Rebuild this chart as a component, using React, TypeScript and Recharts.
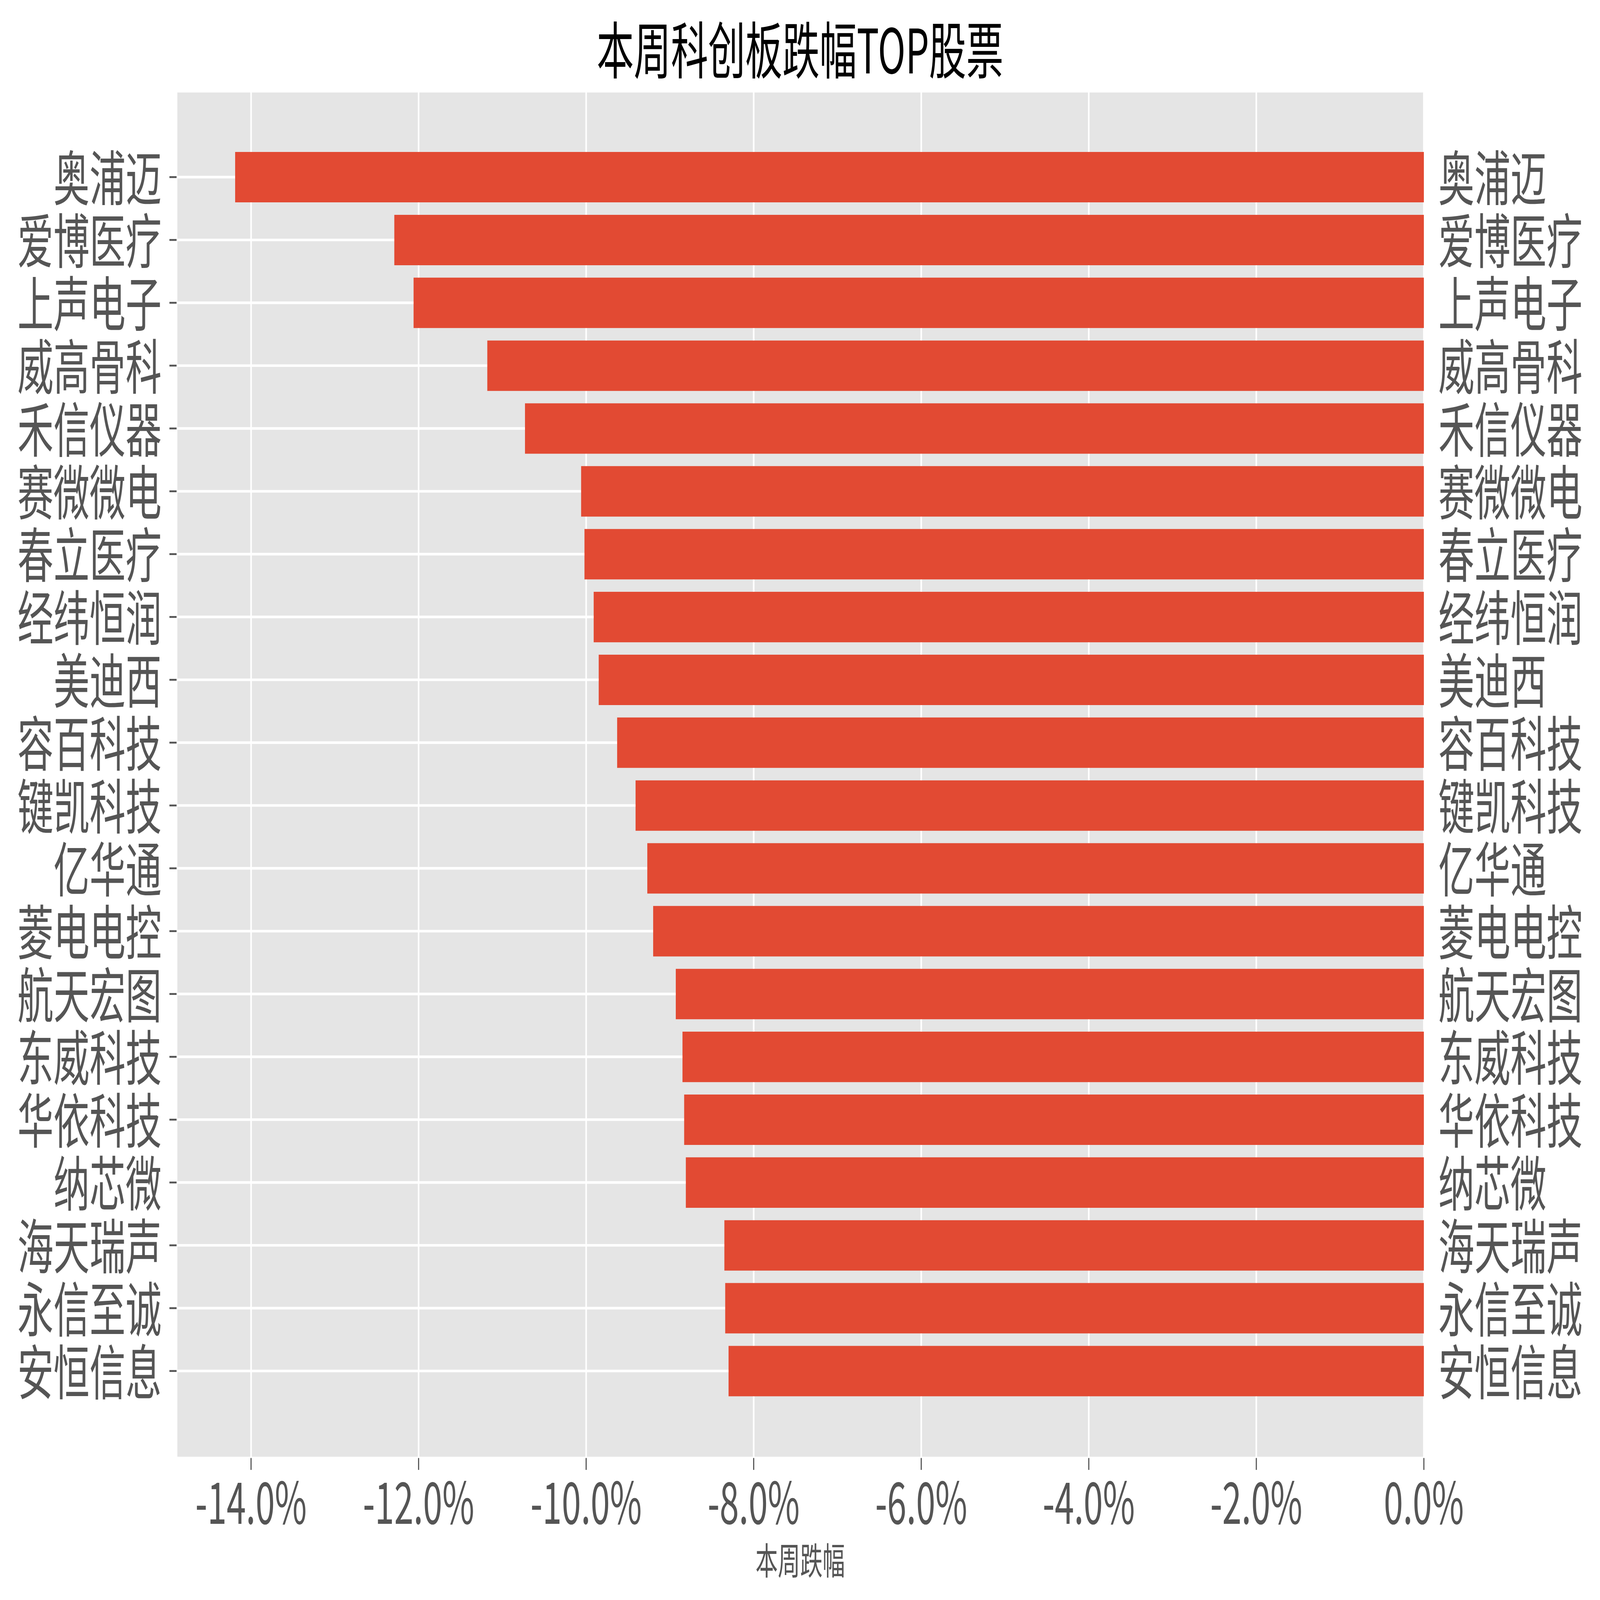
import React from "react";
import { BarChart, Bar, XAxis, YAxis, CartesianGrid, Label } from "recharts";

// stocks with the biggest weekly drop, top to bottom
const stockNames = [
  "奥浦迈", "爱博医疗", "上声电子", "威高骨科", "禾信仪器",
  "赛微微电", "春立医疗", "经纬恒润", "美迪西", "容百科技",
  "键凯科技", "亿华通", "菱电电控", "航天宏图", "东威科技",
  "华依科技", "纳芯微", "海天瑞声", "永信至诚", "安恒信息",
];

// weekly change in percent
const weeklyChange = [
  -14.19, -12.29, -12.06, -11.18, -10.73,
  -10.06, -10.02, -9.91, -9.85, -9.63,
  -9.41, -9.27, -9.2, -8.93, -8.85,
  -8.83, -8.81, -8.35, -8.34, -8.3,
];

const xTicks = [-14, -12, -10, -8, -6, -4, -2, 0];

const data = stockNames.map((name, i) => ({ name, value: weeklyChange[i] }));

const W = 7149;
const H = 4316;
const FONT = '"Noto Sans CJK SC", "Noto Sans", sans-serif';
const GREY = "#555555";

export default function App() {
  // the browser window can be smaller than the requested size, so fit the figure into it
  const vw = Math.min(window.innerWidth || W, W);
  const vh = Math.min(window.innerHeight || H, H);
  const sx = vw / W;
  const sy = vh / H;

  return (
    <div style={{ margin: -8, width: vw, height: vh, overflow: "hidden", background: "#fff" }}>
      <div
        style={{
          position: "relative",
          width: W,
          height: H,
          background: "#fff",
          transform: `scale(${sx}, ${sy})`,
          transformOrigin: "0 0",
        }}
      >
        <div
          style={{
            position: "absolute",
            left: 0,
            top: 5,
            width: W,
            textAlign: "center",
            fontFamily: FONT,
            fontSize: 166,
            lineHeight: "normal",
            color: "#000",
          }}
        >
          本周科创板跌幅TOP股票
        </div>
        <BarChart
          width={W}
          height={H}
          data={data}
          layout="vertical"
          margin={{ top: 246, right: 0, bottom: 0, left: 0 }}
          barCategoryGap="10%"
        >
          <CartesianGrid yAxisId="left" fill="#E5E5E5" stroke="#ffffff" strokeWidth={7} />
          <XAxis
            type="number"
            domain={[-14.889, 0]}
            ticks={xTicks}
            tickFormatter={(v: number) => `${v.toFixed(1)}%`}
            height={383}
            axisLine={false}
            tickSize={32}
            tickMargin={35}
            tickLine={{ stroke: GREY, strokeWidth: 5 }}
            tick={{ fill: GREY, fontSize: 155, fontFamily: FONT }}
            interval={0}
          >
            <Label
              value="本周跌幅"
              position="insideBottom"
              offset={68}
              style={{ fill: GREY, fontSize: 100, fontFamily: FONT }}
            />
          </XAxis>
          <YAxis
            yAxisId="left"
            type="category"
            dataKey="name"
            width={789}
            axisLine={false}
            tickSize={32}
            tickMargin={35}
            tickLine={{ stroke: GREY, strokeWidth: 5 }}
            tick={{ fill: GREY, fontSize: 161, fontFamily: FONT, dy: 6 }}
            padding={{ top: 147, bottom: 150 }}
            interval={0}
          />
          <YAxis
            yAxisId="right"
            orientation="right"
            type="category"
            dataKey="name"
            width={787}
            axisLine={false}
            tickLine={false}
            tickSize={0}
            tickMargin={65}
            tick={{ fill: GREY, fontSize: 161, fontFamily: FONT, dy: 6, textAnchor: "start" }}
            padding={{ top: 147, bottom: 150 }}
            interval={0}
          />
          <Bar yAxisId="left" dataKey="value" fill="#E24A33" isAnimationActive={false} />
        </BarChart>
      </div>
    </div>
  );
}
